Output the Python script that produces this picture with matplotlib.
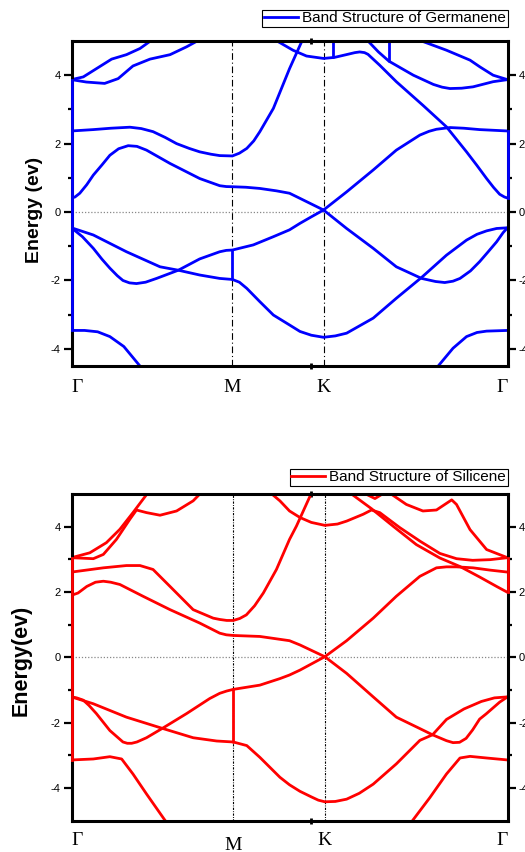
import matplotlib.pyplot as plt
from matplotlib.lines import Line2D

plt.rcParams['font.family'] = ['Liberation Sans', 'DejaVu Sans']
plt.rcParams['axes.unicode_minus'] = False

# high symmetry points along the k-path (fraction of the path length)
ge_sym_k = [0.0, 0.369, 0.578, 1.0]
si_sym_k = [0.0, 0.371, 0.581, 1.0]
sym_labels = ['Γ', 'M', 'K', 'Γ']

# ---------------- Germanene bands ----------------
ge_k1 = [0.0, 0.03, 0.06, 0.088, 0.12, 0.157, 0.19, 0.81, 0.841, 0.875, 0.906, 0.93, 0.952, 1.0]
ge_e1 = [-3.46, -3.46, -3.50, -3.64, -3.93, -4.50, -5.0, -5.0, -4.50, -3.98, -3.64, -3.52, -3.48, -3.46]

ge_k2 = [0.0, 0.025, 0.050, 0.07, 0.088, 0.105, 0.118, 0.133, 0.149, 0.17,
         0.195, 0.245, 0.294, 0.340, 0.355, 0.369,
         0.417, 0.463, 0.50, 0.524, 0.55, 0.578, 0.631, 0.692, 0.745, 0.799,
         0.82, 0.837, 0.868, 0.90, 0.936, 1.0]
ge_e2 = [-0.46, -0.72, -1.06, -1.38, -1.64, -1.86, -2.00, -2.07, -2.09, -2.05,
         -1.94, -1.70, -1.37, -1.16, -1.12, -1.11,
         -0.96, -0.72, -0.52, -0.33, -0.14, 0.06, 0.59, 1.23, 1.81, 2.25,
         2.36, 2.42, 2.47, 2.45, 2.41, 2.37]

ge_k3 = [0.0, 0.050, 0.126, 0.203, 0.245, 0.294, 0.340, 0.369, 0.385, 0.402, 0.432,
         0.463, 0.50, 0.524, 0.55, 0.578, 0.605, 0.631, 0.692, 0.745, 0.803, 0.860,
         0.906, 0.93, 0.952, 0.975, 1.0]
ge_e3 = [-0.46, -0.67, -1.16, -1.60, -1.70, -1.84, -1.94, -1.97, -2.05, -2.23, -2.62,
         -3.01, -3.30, -3.49, -3.60, -3.66, -3.62, -3.54, -3.10, -2.52, -1.91, -1.26,
         -0.82, -0.65, -0.55, -0.48, -0.46]

# vertical step at M between the two valence bands
ge_k2m = [0.369, 0.369]
ge_e2m = [-1.11, -1.97]

ge_k4 = [0.0, 0.008, 0.019, 0.035, 0.050, 0.07, 0.088, 0.108, 0.130, 0.15, 0.172,
         0.226, 0.294, 0.340, 0.355, 0.369, 0.40, 0.432, 0.47, 0.50, 0.524, 0.578,
         0.631, 0.692, 0.745, 0.803, 0.835, 0.856, 0.875, 0.891, 0.915, 0.936,
         0.955, 0.975, 0.99, 1.0]
ge_e4 = [0.41, 0.44, 0.55, 0.80, 1.08, 1.38, 1.66, 1.85, 1.94, 1.92, 1.81,
         1.42, 0.98, 0.77, 0.745, 0.74, 0.725, 0.69, 0.62, 0.55, 0.40, 0.06,
         -0.48, -1.06, -1.60, -1.94, -2.03, -2.06, -2.02, -1.94, -1.72, -1.45,
         -1.17, -0.87, -0.60, -0.46]

ge_k5 = [0.0, 0.050, 0.09, 0.134, 0.16, 0.187, 0.215, 0.241, 0.27, 0.294, 0.320,
         0.340, 0.369, 0.385, 0.402, 0.418, 0.432, 0.463, 0.50, 0.5275, 0.54]
ge_e5 = [2.37, 2.41, 2.45, 2.48, 2.44, 2.35, 2.18, 2.00, 1.86, 1.76, 1.69,
         1.65, 1.64, 1.72, 1.86, 2.08, 2.35, 3.03, 4.19, 4.97, 5.3]

ge_k6 = [0.465, 0.474, 0.508, 0.539, 0.578, 0.603, 0.630, 0.650, 0.661, 0.672,
         0.680, 0.707, 0.745, 0.806, 0.860, 0.906, 0.93, 0.952, 0.968, 0.982,
         0.993, 1.0]
ge_e6 = [5.1, 4.98, 4.73, 4.56, 4.49, 4.52, 4.60, 4.66, 4.68, 4.66,
         4.61, 4.29, 3.81, 3.12, 2.49, 1.76, 1.36, 0.98, 0.72, 0.52,
         0.44, 0.41]

ge_k7 = [0.665, 0.680, 0.704, 0.728, 0.784, 0.830, 0.85, 0.868, 0.895, 0.921, 0.967, 1.0]
ge_e7 = [5.2, 5.0, 4.68, 4.41, 4.00, 3.73, 3.65, 3.61, 3.62, 3.66, 3.81, 3.87]

ge_k8 = [0.80, 0.807, 0.860, 0.914, 0.937, 0.967, 1.0]
ge_e8 = [5.2, 4.98, 4.73, 4.44, 4.24, 4.00, 3.87]

ge_k9 = [0.0, 0.034, 0.076, 0.107, 0.141, 0.180, 0.226, 0.264, 0.287, 0.30]
ge_e9 = [3.87, 3.80, 3.76, 3.90, 4.27, 4.47, 4.60, 4.83, 4.99, 5.2]

ge_k10 = [0.0, 0.027, 0.057, 0.092, 0.126, 0.157, 0.180, 0.19]
ge_e10 = [3.87, 3.95, 4.19, 4.47, 4.60, 4.78, 4.99, 5.2]

# vertical steps hanging from the top of the frame
ge_k11 = [0.600, 0.600]
ge_e11 = [5.3, 4.52]
ge_k12 = [0.728, 0.728]
ge_e12 = [5.3, 4.41]

# vertical joins drawn along the Gamma edges
ge_edge_left = [3.87, -3.46]
ge_edge_right = [2.37, 0.41]

# ---------------- Silicene bands ----------------
si_k1 = [0.0, 0.05, 0.088, 0.115, 0.141, 0.172, 0.214, 0.24, 0.76, 0.783,
         0.822, 0.860, 0.891, 0.914, 0.952, 1.0]
si_e1 = [-3.14, -3.11, -3.04, -3.11, -3.57, -4.18, -4.98, -5.4, -5.4, -4.98,
         -4.29, -3.57, -3.08, -3.03, -3.08, -3.14]

si_k2 = [0.0, 0.012, 0.027, 0.04, 0.057, 0.088, 0.118, 0.128, 0.138, 0.15, 0.172,
         0.210, 0.264, 0.317, 0.340, 0.356, 0.371, 0.432, 0.478, 0.50, 0.524, 0.581,
         0.631, 0.692, 0.745, 0.799, 0.837, 0.86, 0.883, 0.921, 0.96, 1.0]
si_e2 = [-1.21, -1.24, -1.31, -1.47, -1.72, -2.24, -2.59, -2.63, -2.63, -2.59, -2.46,
         -2.16, -1.72, -1.26, -1.10, -1.03, -0.98, -0.85, -0.65, -0.54, -0.39, 0.02,
         0.51, 1.20, 1.87, 2.48, 2.74, 2.77, 2.77, 2.74, 2.67, 2.61]

si_k3 = [0.0, 0.050, 0.126, 0.210, 0.279, 0.333, 0.371, 0.402, 0.432,
         0.478, 0.50, 0.524, 0.55, 0.566, 0.581, 0.605, 0.631, 0.66, 0.692, 0.745,
         0.799, 0.828, 0.860, 0.90, 0.94, 0.97, 1.0]
si_e3 = [-1.21, -1.42, -1.83, -2.18, -2.46, -2.56, -2.59, -2.70, -3.06,
         -3.67, -3.90, -4.10, -4.27, -4.37, -4.42, -4.41, -4.34, -4.16, -3.88, -3.26,
         -2.54, -2.37, -1.90, -1.58, -1.35, -1.24, -1.21]

si_k2m = [0.371, 0.371]
si_e2m = [-0.98, -2.59]

si_k4 = [0.0, 0.015, 0.035, 0.055, 0.073, 0.09, 0.111, 0.164, 0.226, 0.294, 0.340,
         0.355, 0.371, 0.432, 0.50, 0.524, 0.581, 0.631, 0.692, 0.745, 0.799, 0.828,
         0.86, 0.875, 0.89, 0.905, 0.92, 0.936, 0.951, 0.982, 1.0]
si_e4 = [1.90, 1.97, 2.17, 2.30, 2.33, 2.30, 2.23, 1.87, 1.46, 1.05, 0.74,
         0.69, 0.67, 0.64, 0.51, 0.38, 0.02, -0.49, -1.21, -1.83, -2.18, -2.37,
         -2.55, -2.61, -2.60, -2.48, -2.22, -1.89, -1.73, -1.37, -1.21]

si_k5 = [0.0, 0.073, 0.126, 0.157, 0.187, 0.226, 0.279, 0.325, 0.340, 0.356, 0.371,
         0.386, 0.401, 0.42, 0.44, 0.47, 0.50, 0.516, 0.551, 0.56]
si_e5 = [2.61, 2.74, 2.81, 2.81, 2.69, 2.17, 1.46, 1.20, 1.16, 1.13, 1.13,
         1.19, 1.30, 1.58, 1.97, 2.69, 3.61, 4.02, 5.05, 5.3]

si_k6 = [0.0, 0.05, 0.073, 0.103, 0.134, 0.149, 0.172, 0.203, 0.241, 0.279,
         0.298, 0.31]
si_e6 = [3.05, 3.02, 3.15, 3.61, 4.23, 4.51, 4.43, 4.35, 4.48, 4.79,
         5.05, 5.3]

si_k7 = [0.0, 0.042, 0.080, 0.111, 0.141, 0.176, 0.19]
si_e7 = [3.05, 3.20, 3.51, 3.92, 4.43, 5.05, 5.3]

si_k8 = [0.44, 0.455, 0.478, 0.50, 0.524, 0.55, 0.581, 0.61, 0.631, 0.669, 0.688, 0.707,
         0.753, 0.80, 0.845, 0.883, 0.92, 0.96, 1.0]
si_e8 = [5.3, 5.05, 4.79, 4.48, 4.28, 4.13, 4.04, 4.08, 4.17, 4.38, 4.51, 4.43,
         3.97, 3.55, 3.18, 3.02, 2.97, 2.99, 3.05]

si_k9 = [0.625, 0.638, 0.688, 0.738, 0.791, 0.845, 0.891, 0.936, 0.975, 1.0]
si_e9 = [5.3, 5.04, 4.55, 4.01, 3.45, 3.04, 2.78, 2.46, 2.17, 1.99]

si_k10 = [0.66, 0.669, 0.696, 0.718, 0.725]
si_e10 = [5.2, 5.04, 4.86, 5.04, 5.2]

si_k11 = [0.725, 0.734, 0.768, 0.806, 0.837, 0.872, 0.883, 0.914, 0.952, 1.0]
si_e11 = [5.2, 4.99, 4.68, 4.48, 4.51, 4.82, 4.68, 3.91, 3.30, 3.05]

si_edge_left = [3.05, -3.14]
si_edge_right = [3.05, 1.99]

ge_bands = [(ge_k1, ge_e1), (ge_k2, ge_e2), (ge_k3, ge_e3), (ge_k2m, ge_e2m),
            (ge_k4, ge_e4), (ge_k5, ge_e5), (ge_k6, ge_e6), (ge_k7, ge_e7),
            (ge_k8, ge_e8), (ge_k9, ge_e9), (ge_k10, ge_e10), (ge_k11, ge_e11),
            (ge_k12, ge_e12)]
si_bands = [(si_k1, si_e1), (si_k2, si_e2), (si_k3, si_e3), (si_k2m, si_e2m),
            (si_k4, si_e4), (si_k5, si_e5), (si_k6, si_e6), (si_k7, si_e7),
            (si_k8, si_e8), (si_k9, si_e9), (si_k10, si_e10), (si_k11, si_e11)]

origin_tick_k = 0.55  # stray numeric tick of the original x axis


def draw_panel(ax, bands, color, sym_k, ylim, edges, legend_text, legend_gap,
               vline_style, ylabel, ylabel_size, ylabel_x, ylabel_y, label_pad):
    for k, e in bands:
        ax.plot(k, e, color=color, lw=2.0, zorder=2, solid_joinstyle='round',
                solid_capstyle='round')
    # joins along the Gamma edges sit on top of the frame
    ax.plot([sym_k[0]] * 2, edges[0], color=color, lw=2.0, zorder=3, clip_on=False)
    ax.plot([sym_k[-1]] * 2, edges[1], color=color, lw=2.0, zorder=3, clip_on=False)

    for k in sym_k[1:3]:
        ax.axvline(k, color='black', lw=0.8, ls=vline_style, zorder=1)
    ax.axhline(0, color='#888888', lw=0.9, ls=(0, (1, 1.5)), zorder=1)

    ax.set_xlim(sym_k[0], sym_k[-1])
    ax.set_ylim(ylim)
    ax.set_yticks([-4, -2, 0, 2, 4])
    ax.set_yticks([-3, -1, 1, 3], minor=True)
    ax.tick_params(axis='y', which='major', direction='out', length=5.5, width=1.6,
                   labelsize=8, right=True, labelright=True, pad=2.5)
    ax.tick_params(axis='y', which='minor', direction='out', length=3, width=1.6,
                   right=True)

    ax.set_xticks(sym_k)
    ax.set_xticklabels(sym_labels, fontfamily='Liberation Serif', fontsize=14)
    ax.set_xticks([origin_tick_k], minor=True)
    ax.tick_params(axis='x', which='major', length=0, pad=label_pad)
    ax.tick_params(axis='x', which='minor', direction='inout', length=4, width=2,
                   top=True)
    labels = ax.get_xticklabels()
    labels[0].set_horizontalalignment('left')
    labels[-1].set_horizontalalignment('right')

    for sp in ax.spines.values():
        sp.set_linewidth(2.2)

    handle = Line2D([], [], color=color, lw=2.0)
    leg = ax.legend([handle], [legend_text], loc='lower right',
                    bbox_to_anchor=(1.0, 1.0 + legend_gap), fontsize=11,
                    fancybox=False, edgecolor='black', framealpha=1, borderpad=0.1,
                    handlelength=2.2, handletextpad=0.3, borderaxespad=0)
    leg.get_frame().set_linewidth(0.8)

    ax.set_ylabel(ylabel, fontsize=ylabel_size, fontweight='bold')
    ax.yaxis.set_label_coords(ylabel_x, ylabel_y)


fig = plt.figure(figsize=(5.25, 8.52), dpi=100)
ax1 = fig.add_axes([0.1362, 0.5704, 0.8305, 0.3815])
ax2 = fig.add_axes([0.1362, 0.0367, 0.8305, 0.3835])

draw_panel(ax1, ge_bands, '#0000ff', ge_sym_k, (-4.5, 5), (ge_edge_left, ge_edge_right),
           'Band Structure of Germanene', 0.043, (0, (6, 2.5, 1, 2.5)),
           'Energy (ev)', 14, -0.065, 0.48, 9)
draw_panel(ax2, si_bands, '#ff0000', si_sym_k, (-5, 5), (si_edge_left, si_edge_right),
           'Band Structure of Silicene', 0.0245, (0, (2, 1.2, 0.8, 1.2)),
           'Energy(ev)', 15.5, -0.092, 0.49, 8)

# M label of the lower panel sits a bit lower in the original
ax2.get_xaxis().get_major_ticks()[1].set_pad(11.5)

fig.savefig('out.png', dpi=100)
